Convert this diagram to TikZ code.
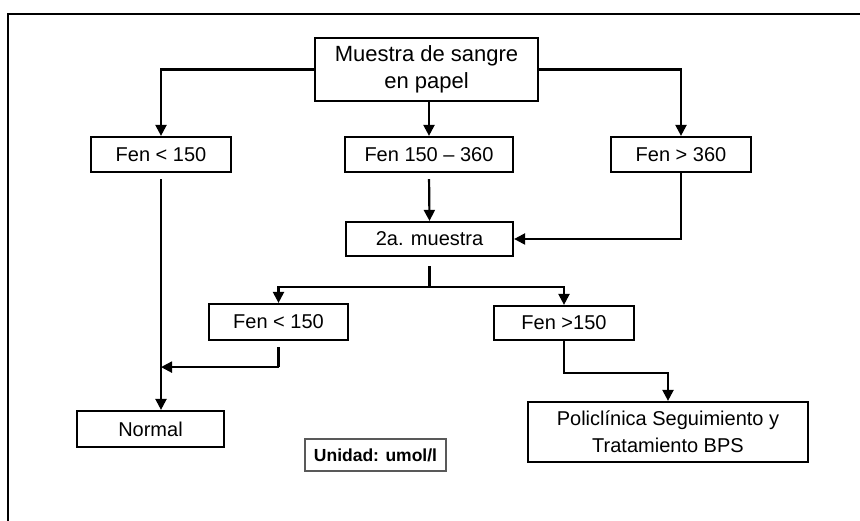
\documentclass[tikz,border=0pt]{standalone}
\usepackage{fontspec}
\setmainfont{Liberation Sans}
\usetikzlibrary{arrows.meta}

\begin{document}
\begin{tikzpicture}[x=1pt, y=-1pt,
	caja/.style={draw, line width=2.2pt, inner sep=0pt, align=center,
		font=\fontsize{20}{27}\selectfont},
	flecha/.style={line width=2.2pt, -{Triangle[width=11pt,length=11pt]}},
	linea/.style={line width=2.2pt}]
	\useasboundingbox (0,0) rectangle (860,521);
	\draw[line width=2.4pt] (860,14) -- (8,14) -- (8,521);
	\node[caja, minimum width=223pt, minimum height=63pt, font=\fontsize{22}{27.5}\selectfont] (muestra) at (426.5,69.5) {Muestra de sangre\\en papel};
	\node[caja, minimum width=140pt, minimum height=35pt] (fen1) at (161,154.5) {Fen < 150};
	\node[caja, minimum width=168pt, minimum height=35pt] (fen2) at (429,154.5) {Fen 150 – 360};
	\node[caja, minimum width=140pt, minimum height=35pt] (fen3) at (681,154.5) {Fen > 360};
	\node[caja, minimum width=167pt, minimum height=34pt] (mues2) at (429.5,239) {2a. muestra};
	\node[caja, minimum width=139pt, minimum height=36pt] (fen4) at (278.5,322) {Fen < 150};
	\node[caja, minimum width=140pt, minimum height=34pt] (fen5) at (564,323) {Fen >150};
	\node[caja, minimum width=147pt, minimum height=36pt] (normal) at (150.5,429) {Normal};
	\node[caja, minimum width=280pt, minimum height=60pt] (poli) at (668,432) {Policlínica Seguimiento y\\Tratamiento BPS};
	\node[draw=black!65, line width=1.2pt, minimum width=141pt, minimum height=32pt, inner sep=0pt,
		font=\bfseries\fontsize{17.5}{20}\selectfont] (unidad) at (375.5,455) {Unidad: umol/l};
	\draw[flecha] (muestra.west) -| (fen1.north);
	\draw[flecha] (muestra.east) -| (fen3.north);
	\draw[flecha] (fen2.north |- muestra.south) -- (fen2.north);
	\draw[flecha, shorten <=6pt] (fen2.south) -- (mues2.north);
	\draw[flecha] (fen3.south) |- (mues2.east);
	\draw[flecha, shorten <=6pt] (fen1.south) -- (fen1.south |- normal.north);
	\draw[linea, shorten <=9pt] (mues2.south) -- ++(0,30) coordinate (split);
	\draw[flecha] (split) -| (fen4.north);
	\draw[flecha] (split) -| (fen5.north);
	\draw[linea, shorten <=6pt] (fen4.south) -- ++(0,26) coordinate (bend1);
	\draw[flecha] (bend1) -- (bend1 -| fen1.south);
	\draw[flecha] (fen5.south) -- ++(0,32) coordinate (bend2) -| (poli.north);
\end{tikzpicture}
\end{document}
